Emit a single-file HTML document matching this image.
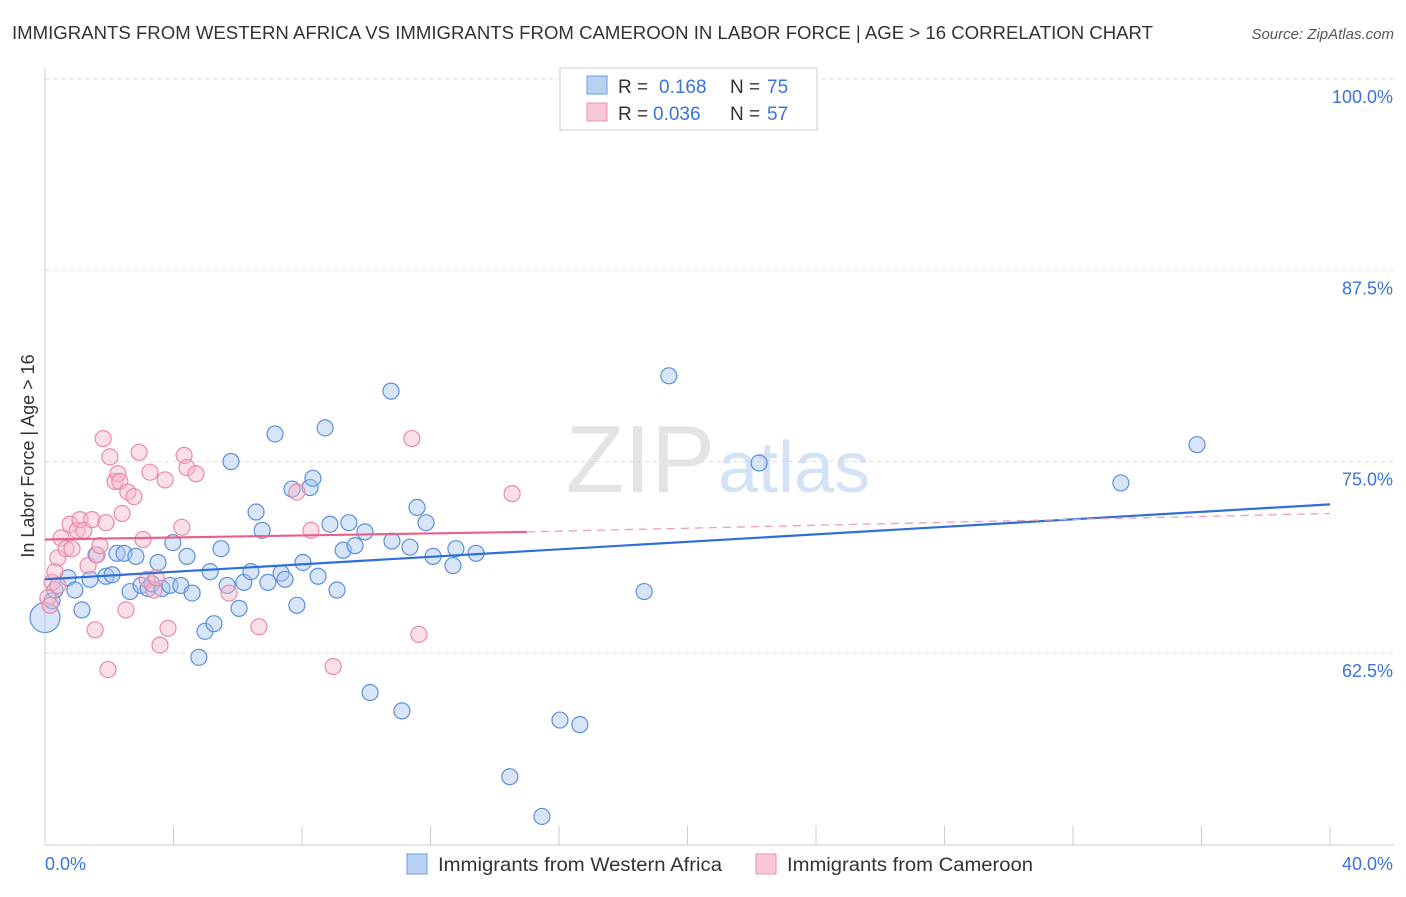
<!DOCTYPE html>
<html><head><meta charset="utf-8">
<style>
body{margin:0;background:#fff;font-family:"Liberation Sans",sans-serif;}
svg text{font-family:"Liberation Sans",sans-serif;}
</style></head>
<body>
<svg id="chart" width="1406" height="892" xmlns="http://www.w3.org/2000/svg">
<text x="12" y="39" font-size="18" fill="#333" textLength="1141" lengthAdjust="spacingAndGlyphs">IMMIGRANTS FROM WESTERN AFRICA VS IMMIGRANTS FROM CAMEROON IN LABOR FORCE | AGE &gt; 16 CORRELATION CHART</text>
<text x="1394" y="39" font-size="15" fill="#555" font-style="italic" text-anchor="end">Source: ZipAtlas.com</text>
<text x="715" y="492" font-size="96" fill="#e4e4e4" text-anchor="end" font-family="Liberation Serif">ZIP</text>
<text x="718" y="492" font-size="72" fill="#d3e2f5">atlas</text>
<text transform="translate(34,456) rotate(-90)" font-size="18" fill="#333" text-anchor="middle">In Labor Force | Age &gt; 16</text>
<g id="grid"></g>
<g id="marks"></g>
<g>
<rect x="560" y="68" width="257" height="62" fill="#fff" stroke="#ccc"/>
<rect x="587" y="76" width="20" height="18" fill="#b8d0f2" stroke="#6a9be0"/>
<rect x="587" y="103" width="20" height="18" fill="#f9c6d6" stroke="#ee8fae"/>
<text x="618" y="93" font-size="19" fill="#333">R =</text>
<text x="659" y="93" font-size="19" fill="#3a74d6">0.168</text>
<text x="730" y="93" font-size="19" fill="#333">N =</text>
<text x="767" y="93" font-size="19" fill="#3a74d6">75</text>
<text x="618" y="120" font-size="19" fill="#333">R =</text>
<text x="653" y="120" font-size="19" fill="#3a74d6">0.036</text>
<text x="730" y="120" font-size="19" fill="#333">N =</text>
<text x="767" y="120" font-size="19" fill="#3a74d6">57</text>
</g>
<g>
<rect x="407" y="854" width="20" height="20" fill="#b8d0f2" stroke="#6a9be0"/>
<text x="438" y="871" font-size="19" fill="#333" textLength="284" lengthAdjust="spacingAndGlyphs">Immigrants from Western Africa</text>
<rect x="756" y="854" width="20" height="20" fill="#f9c6d6" stroke="#ee8fae"/>
<text x="787" y="871" font-size="19" fill="#333" textLength="246" lengthAdjust="spacingAndGlyphs">Immigrants from Cameroon</text>
</g>
<text x="45" y="870" font-size="18" fill="#3a74d6">0.0%</text>
<text x="1393" y="870" font-size="18" fill="#3a74d6" text-anchor="end">40.0%</text>
</svg>
<script>
const yTicks=[100,87.5,75,62.5];
const xTicks=[0,4,8,12,16,20,24,28,32,36,40];
const blueX=[0,0.22,0.31,0.72,0.93,1.15,1.40,1.59,1.90,2.09,2.24,2.46,2.65,2.83,2.99,3.21,3.33,3.52,3.64,3.89,3.98,4.23,4.42,4.58,4.79,4.98,5.14,5.26,5.48,5.67,5.79,6.04,6.19,6.41,6.57,6.76,6.94,7.16,7.35,7.47,7.69,7.84,8.03,8.25,8.34,8.50,8.72,8.87,9.09,9.28,9.46,9.65,9.96,10.12,10.77,10.80,11.11,11.36,11.58,11.86,12.08,12.70,12.79,13.42,14.47,15.47,16.03,16.65,18.65,19.42,22.23,33.49,35.86];
const blueY=[64.8,65.9,66.6,67.4,66.6,65.3,67.3,68.9,67.5,67.6,69.0,69.0,66.5,68.8,66.9,66.7,67.0,68.4,66.7,66.9,69.7,66.9,68.8,66.4,62.2,63.9,67.8,64.4,69.3,66.9,75.0,65.4,67.1,67.8,71.7,70.5,67.1,76.8,67.7,67.3,73.2,65.6,68.4,73.3,73.9,67.5,77.2,70.9,66.6,69.2,71.0,69.5,70.4,59.9,79.6,69.8,58.7,69.4,72.0,71.0,68.8,68.2,69.3,69.0,54.4,51.8,58.1,57.8,66.5,80.6,74.9,73.6,76.1];
const pinkX=[0.09,0.22,0.31,0.40,0.50,0.65,0.78,0.84,1.0,1.09,1.21,1.34,1.46,1.56,1.62,1.71,1.81,1.90,1.96,2.02,2.18,2.27,2.33,2.40,2.52,2.58,2.77,2.93,3.05,3.18,3.27,3.39,3.46,3.58,3.74,3.83,4.26,4.33,4.42,4.70,5.73,6.66,7.84,8.28,8.97,11.42,11.64,14.54,0.16,0.40];
const pinkY=[66.1,67.1,67.8,68.7,70.0,69.3,70.9,69.3,70.5,71.2,70.5,68.2,71.2,64.0,68.9,69.5,76.5,71.0,61.4,75.3,73.7,74.2,73.7,71.6,65.3,73.0,72.7,75.6,69.9,67.3,74.3,66.6,67.4,63.0,73.8,64.1,70.7,75.4,74.6,74.2,66.4,64.2,73.0,70.5,61.6,76.5,63.7,72.9,65.6,66.9];
const blueTrend=[67.3,72.2];
const pinkTrend=[69.9,70.4,71.6];
const sx=v=>45+v/40*1285;
const sy=v=>79+(100-v)*15.3;
const NS="http://www.w3.org/2000/svg";
function mk(t,a,p){const e=document.createElementNS(NS,t);for(const k in a)e.setAttribute(k,a[k]);p.appendChild(e);return e;}
const grid=document.getElementById('grid'),marks=document.getElementById('marks');
yTicks.forEach(v=>{
 const l=mk('line',{x1:45,x2:1394,y1:sy(v),y2:sy(v),stroke:'#ddd','stroke-dasharray':'4,4'},grid);
 
 
 const t=mk('text',{x:1393,y:sy(v)+24,'font-size':18,fill:'#3a74d6','text-anchor':'end'},grid);
 t.textContent=v.toFixed(1)+'%';
 
 
});
const ax=mk('line',{x1:45,x2:1394,y1:845,y2:845,stroke:'#ccc'},grid);


const ay=mk('line',{x1:45,x2:45,y1:68,y2:845,stroke:'#ccc'},grid);


xTicks.forEach(v=>{
 const l=mk('line',{x1:sx(v),x2:sx(v),y1:826,y2:845,stroke:'#ccc'},grid);
 
 
});
function pts(X,Y,fill,stroke,name){X.forEach((x,i)=>{
 const r=(x===0&&name==='blue-point')?15:8;
 const c=mk('circle',{cx:sx(x),cy:sy(Y[i]),r:r,fill:fill,'fill-opacity':0.45,stroke:stroke,'stroke-width':1.2},marks);
 
 
});}
pts(blueX,blueY,'#a9c6f0','#5b8fdc','blue-point');
pts(pinkX,pinkY,'#f7b8cc','#e98aa8','pink-point');
const bl=mk('line',{x1:sx(0),y1:sy(blueTrend[0]),x2:sx(40),y2:sy(blueTrend[1]),stroke:'#2f6fd6','stroke-width':2.2},marks);


const pl=mk('line',{x1:sx(0),y1:sy(pinkTrend[0]),x2:sx(15),y2:sy(pinkTrend[1]),stroke:'#e8608a','stroke-width':2.2},marks);


const pd=mk('line',{x1:sx(15),y1:sy(pinkTrend[1]),x2:sx(40),y2:sy(pinkTrend[2]),stroke:'#e8a0b8','stroke-width':1.3,'stroke-dasharray':'8,6'},marks);


</script>
</body></html>
